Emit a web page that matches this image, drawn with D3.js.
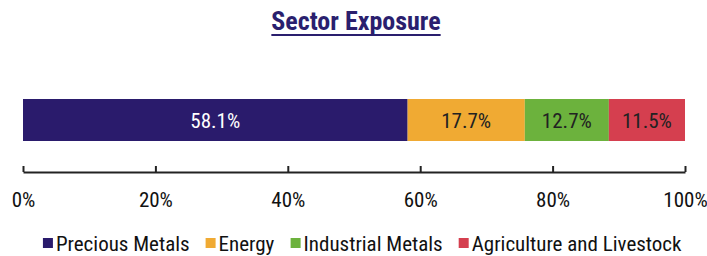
<!DOCTYPE html>
<html>
<head>
<meta charset="utf-8">
<script src="https://cdn.jsdelivr.net/npm/d3@7"></script>
<style>
  body { margin: 0; background: #fff; }
  svg { display: block; }
  text { font-family: "Liberation Sans Narrow", "Arial Narrow", "Roboto Condensed", "Liberation Sans", sans-serif; }
</style>
</head>
<body>
<svg id="chart" width="707" height="256"></svg>
<script>
// data
const sectors = ['Precious Metals', 'Energy', 'Industrial Metals', 'Agriculture and Livestock'];
const shares = [58.1, 17.7, 12.7, 11.5];
const colors = ['#2a1b6c', '#f0aa33', '#6cb23d', '#d53f4f'];
const labelColors = ['#ffffff', '#222222', '#222222', '#222222'];
const ticks = [0, 20, 40, 60, 80, 100];

const svg = d3.select('#chart');
const W = 707;

const x = d3.scaleLinear().domain([0, 100]).range([23, 685]);

// title
const title = svg.append('text')
    .attr('x', 356)
    .attr('y', 30)
    .attr('text-anchor', 'middle')
    .attr('font-size', 26)
    .attr('font-weight', 'bold')
    .attr('fill', '#2a1f6e')
    .text('Sector Exposure');
const tb = title.node().getBBox();
svg.append('line')
    .attr('x1', tb.x)
    .attr('x2', tb.x + tb.width)
    .attr('y1', 35)
    .attr('y2', 35)
    .attr('stroke', '#2a1f6e')
    .attr('stroke-width', 2);

// stacked segments
let acc = 0;
const segs = shares.map((v, i) => {
    const s = { name: sectors[i], value: v, start: acc, color: colors[i], lc: labelColors[i] };
    acc += v;
    return s;
});
const barTop = 99, barH = 42;

const g = svg.append('g');
g.selectAll('rect')
    .data(segs)
    .enter()
    .append('rect')
    .attr('x', d => x(d.start))
    .attr('y', barTop)
    .attr('width', d => x(d.start + d.value) - x(d.start))
    .attr('height', barH)
    .attr('fill', d => d.color);

g.selectAll('text.val')
    .data(segs)
    .enter()
    .append('text')
    .attr('class', 'val')
    .attr('x', d => x(d.start + d.value / 2))
    .attr('y', barTop + barH / 2)
    .attr('dy', '0.36em')
    .attr('text-anchor', 'middle')
    .attr('font-size', 21)
    .attr('fill', d => d.lc)
    .text(d => d.value.toFixed(1) + '%');

// axis
const axisY = 172;
const axis = d3.axisBottom(x)
    .tickValues(ticks)
    .tickSize(-6)
    .tickSizeOuter(0)
    .tickPadding(20)
    .tickFormat(d => d + '%');
const ag = svg.append('g')
    .attr('transform', `translate(0,${axisY})`)
    .call(axis);
ag.select('.domain').attr('stroke', '#222').attr('stroke-width', 2);
ag.selectAll('.tick line').attr('stroke', '#222').attr('stroke-width', 2);
ag.selectAll('.tick text')
    .attr('font-family', null)
    .attr('font-size', 21)
    .attr('fill', '#111')
    .attr('dy', '0.71em');

// legend
const legend = svg.append('g');
const gap = 16;
let prev;
legend.selectAll('g')
    .data(segs)
    .enter()
    .append('g')
    .each(function (d, i) {
        const item = d3.select(this);
        item.append('rect')
            .attr('x', 0)
            .attr('y', -5)
            .attr('width', 10)
            .attr('height', 10)
            .attr('fill', d.color);
        item.append('text')
            .attr('x', 13)
            .attr('y', 0)
            .attr('dy', '0.36em')
            .attr('font-size', 21)
            .attr('fill', '#111')
            .text(d.name);
        const start = i === 0 ? 0 : prev + gap;
        item.attr('transform', `translate(${start},0)`);
        prev = start + this.getBBox().width;
    });
const lb = legend.node().getBBox();
legend.attr('transform', `translate(${(W - lb.width) / 2 + 9},243)`);
</script>
</body>
</html>
